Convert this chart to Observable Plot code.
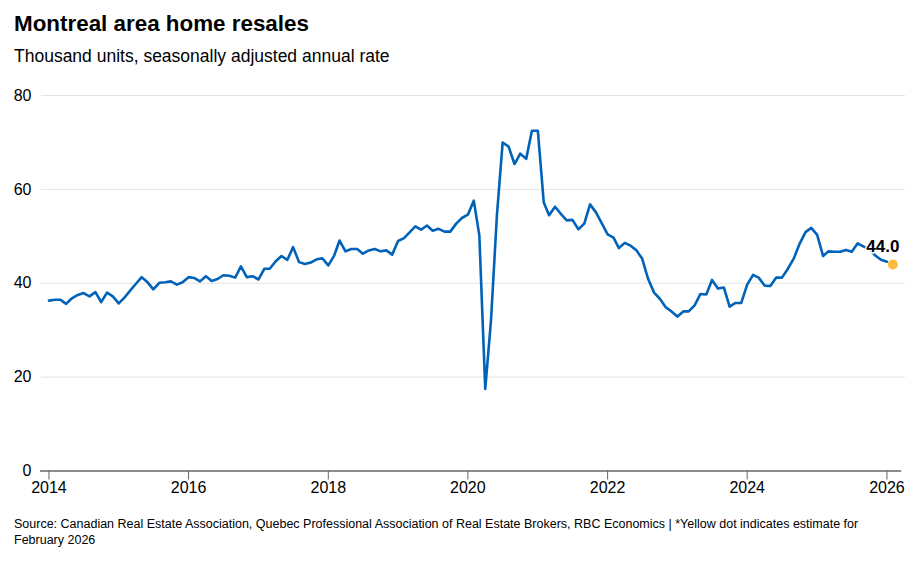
<!DOCTYPE html>
<html>
<head>
<meta charset="utf-8">
<script src="https://cdn.jsdelivr.net/npm/d3@7"></script>
<script src="https://cdn.jsdelivr.net/npm/@observablehq/plot@0.6"></script>
<style>
  html, body { margin: 0; padding: 0; background: #fff; }
  body { width: 924px; height: 561px; overflow: hidden; font-family: "Liberation Sans", Arial, Helvetica, sans-serif; color: #000; }
  #title { position: absolute; left: 14px; top: 11px; font-size: 22.4px; font-weight: bold; line-height: 26px; white-space: nowrap; }
  #subtitle { position: absolute; left: 14px; top: 45px; font-size: 17.5px; line-height: 22px; white-space: nowrap; }
  #chart { position: absolute; left: 0; top: 70px; }
  #footer { position: absolute; left: 14px; top: 516px; font-size: 12.5px; line-height: 16px; }
</style>
</head>
<body>
<div id="title">Montreal area home resales</div>
<div id="subtitle">Thousand units, seasonally adjusted annual rate</div>
<div id="chart"></div>
<div id="footer">Source: Canadian Real Estate Association, Quebec Professional Association of Real Estate Brokers, RBC Economics | *Yellow dot indicates estimate for<br>February 2026</div>
<script>
// Monthly series, January 2014 through January 2026 (thousand units, SAAR)
const startMonth = "2014-01";
const resales = [
  36.3, 36.5, 36.5, 35.6, 36.8, 37.5, 37.9, 37.2, 38.1, 36.0, 38.0, 37.2,
  35.7, 37.0, 38.4, 39.9, 41.3, 40.2, 38.7, 40.1, 40.2, 40.4, 39.7, 40.2,
  41.3, 41.1, 40.4, 41.5, 40.5, 40.9, 41.7, 41.6, 41.2, 43.6, 41.3, 41.5,
  40.8, 43.1, 43.1, 44.7, 45.8, 45.0, 47.7, 44.5, 44.1, 44.4, 45.1, 45.3,
  43.8, 45.9, 49.1, 46.8, 47.3, 47.3, 46.3, 47.0, 47.3, 46.8, 47.0, 46.1,
  49.0, 49.6, 50.8, 52.1, 51.4, 52.3, 51.2, 51.6, 51.0, 51.0, 52.7, 53.9,
  54.6, 57.6, 50.2, 17.5, 32.1, 54.5, 70.0, 69.1, 65.4, 67.6, 66.5, 72.5,
  72.5, 57.2, 54.5, 56.3, 54.8, 53.4, 53.5, 51.5, 52.7, 56.8, 55.1, 52.8,
  50.4, 49.7, 47.5, 48.6, 48.0, 47.0, 45.2, 40.9, 38.0, 36.7, 34.9, 34.0,
  32.9, 34.0, 34.0, 35.3, 37.7, 37.6, 40.7, 38.9, 39.1, 35.0, 35.8, 35.8,
  39.7, 41.8, 41.2, 39.5, 39.4, 41.2, 41.2, 43.1, 45.3, 48.4, 50.9, 51.8,
  50.3, 45.8, 46.8, 46.7, 46.7, 47.1, 46.7, 48.5, 47.8, 47.3, 45.9, 45.0,
  44.6
];
const estimateMonth = "2026-02";
const estimateValue = 44.0;
const estimateLabel = "44.0";
const yTicks = [0, 20, 40, 60, 80];
const xTickYears = [2014, 2016, 2018, 2020, 2022, 2024, 2026];

const start = new Date(startMonth + "-01T00:00:00Z");
const data = resales.map((v, i) => ({ date: d3.utcMonth.offset(start, i), value: v }));
const estimate = [{ date: new Date(estimateMonth + "-01T00:00:00Z"), value: estimateValue, label: estimateLabel }];
const xTicks = xTickYears.map(y => new Date(Date.UTC(y, 0, 1)));

const blue = "#0062b8";
const yellow = "#fdbc3f";

const chart = Plot.plot({
  width: 924,
  height: 435,
  marginLeft: 41,
  marginRight: 19,
  marginTop: 25,
  marginBottom: 34.5,
  style: { fontFamily: "'Liberation Sans', Arial, sans-serif", fontSize: "16px", color: "#000", background: "transparent", overflow: "visible" },
  x: { type: "utc", domain: [new Date(Date.UTC(2013, 10, 23)), new Date(Date.UTC(2026, 3, 8))] },
  y: { domain: [0, 80] },
  marks: [
    Plot.ruleY(yTicks.filter(d => d > 0), { stroke: "#e3e3e3", strokeWidth: 1 }),
    Plot.axisY({ ticks: yTicks, tickSize: 0, tickPadding: 10, label: null, fontSize: 16 }),
    Plot.ruleY([0], { x1: new Date(Date.UTC(2013, 10, 18)), x2: new Date(Date.UTC(2026, 2, 19)), stroke: "#666", strokeWidth: 1.5 }),
    Plot.axisX({ ticks: xTicks, tickFormat: d3.utcFormat("%Y"), tickSize: 9, tickPadding: 2, label: null, stroke: "#666", fontSize: 16 }),
    Plot.line(data, { x: "date", y: "value", stroke: blue, strokeWidth: 2.6, strokeLinejoin: "round" }),
    Plot.dot(estimate, { x: "date", y: "value", r: 5, fill: yellow, stroke: "none" }),
    Plot.text(estimate, { x: "date", y: "value", text: "label", dx: -10, dy: -18, fontSize: 17, fontWeight: "bold", fill: "#000", stroke: "#fff", strokeWidth: 3, paintOrder: "stroke" })
  ]
});
document.getElementById("chart").appendChild(chart);
</script>
</body>
</html>
